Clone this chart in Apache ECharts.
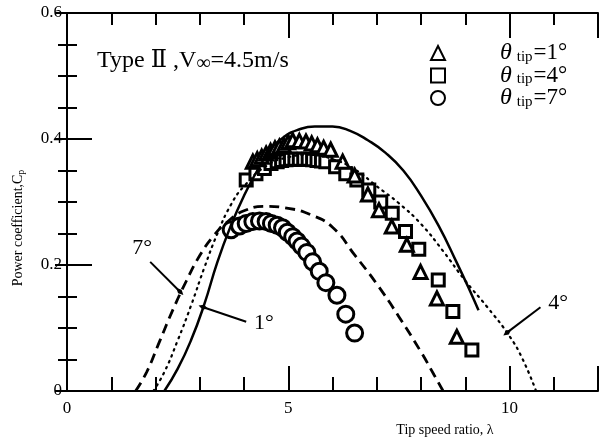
<!DOCTYPE html>
<html>
<head>
<meta charset="utf-8">
<script src="https://cdn.jsdelivr.net/npm/echarts@6/dist/echarts.min.js"></script>
<style>
html,body{margin:0;padding:0;background:#fff;}
#chart{width:608px;height:443px;}
</style>
</head>
<body>
<div id="chart"></div>
<script>
const serif = '"Liberation Serif","DejaVu Serif",serif';

// Tick labels
const xLabelValues = [0, 5, 10];
const yLabelValues = [0, 0.2, 0.4, 0.6];

// Blade tip angles (deg)
const tipAngles = [1, 4, 7];

// Measured power coefficient [lambda, Cp]
const measTip1 = [
  [4.2,0.364],[4.3,0.368],[4.4,0.372],[4.5,0.377],[4.6,0.381],[4.7,0.385],[4.8,0.388],
  [4.9,0.39],[5.0,0.395],[5.1,0.398],[5.25,0.397],[5.4,0.396],[5.53,0.393],[5.66,0.39],
  [5.8,0.386],[5.96,0.383],[6.23,0.364],[6.5,0.342],[6.8,0.312],[7.05,0.287],[7.34,0.261],
  [7.68,0.232],[7.99,0.189],[8.36,0.147],[8.81,0.086]
];
const measTip4 = [
  [4.05,0.335],[4.27,0.345],[4.46,0.353],[4.61,0.361],[4.75,0.364],[4.85,0.366],[4.95,0.367],
  [5.05,0.368],[5.15,0.368],[5.25,0.368],[5.35,0.368],[5.45,0.368],[5.55,0.367],[5.65,0.366],
  [5.75,0.365],[5.85,0.364],[6.07,0.356],[6.3,0.345],[6.55,0.335],[6.82,0.319],[7.09,0.3],
  [7.35,0.282],[7.65,0.253],[7.95,0.225],[8.39,0.176],[8.72,0.126],[9.15,0.065]
];
const measTip7 = [
  [3.71,0.256],[3.9,0.262],[4.05,0.266],[4.2,0.269],[4.35,0.27],[4.5,0.269],[4.62,0.266],
  [4.75,0.263],[4.87,0.259],[4.98,0.252],[5.1,0.245],[5.2,0.238],[5.3,0.23],[5.42,0.22],
  [5.55,0.205],[5.7,0.19],[5.85,0.172],[6.1,0.152],[6.3,0.122],[6.5,0.092]
];

// Calculated power coefficient curves [lambda, Cp]
const calcTip1 = [
  [2.2,0],[2.5,0.035],[2.8,0.08],[3.1,0.137],[3.4,0.205],[3.7,0.262],[4.0,0.31],[4.3,0.35],
  [4.6,0.383],[4.9,0.403],[5.2,0.414],[5.6,0.42],[6.0,0.42],[6.4,0.413],[6.8,0.398],
  [7.2,0.378],[7.6,0.35],[8.0,0.31],[8.4,0.262],[8.8,0.205],[9.1,0.16],[9.3,0.128]
];
const calcTip4 = [
  [1.95,0],[2.2,0.03],[2.5,0.08],[2.8,0.135],[3.1,0.195],[3.4,0.25],[3.7,0.295],[4.0,0.325],
  [4.5,0.357],[5.0,0.371],[5.5,0.375],[6.0,0.368],[6.5,0.352],[7.0,0.325],[7.5,0.298],
  [8.0,0.265],[8.5,0.222],[9.0,0.175],[9.5,0.133],[10.0,0.087],[10.3,0.05],[10.6,0]
];
const calcTip7 = [
  [1.55,0],[1.8,0.03],[2.1,0.08],[2.4,0.13],[2.7,0.175],[3.0,0.215],[3.3,0.245],[3.6,0.267],
  [4.0,0.286],[4.5,0.293],[5.0,0.29],[5.5,0.28],[6.0,0.26],[6.5,0.216],[7.0,0.17],
  [7.5,0.118],[8.0,0.062],[8.3,0.025],[8.5,0]
];

// Curve callouts: text, label point, leader start, leader tip
const callouts = [
  { text: '7°', at: [1.7, 0.226], from: [1.88, 0.205], to: [2.55, 0.158] },
  { text: '1°', at: [4.45, 0.108], from: [4.05, 0.11], to: [3.08, 0.133] },
  { text: '4°', at: [11.1, 0.14], from: [10.7, 0.133], to: [9.95, 0.093] }
];

const chart = echarts.init(document.getElementById('chart'));

const boxLine = { show: true, lineStyle: { color: '#000', width: 2 } };
function xAxisDef(pos, interval, len, labels) {
  return {
    type: 'value', position: pos, min: 0, max: 12, interval: interval,
    axisLine: labels ? boxLine : { show: false },
    axisTick: { show: true, inside: true, length: len, lineStyle: { color: '#000', width: 2 } },
    axisLabel: labels ? {
      show: true, margin: 9, color: '#000', fontFamily: serif, fontSize: 17,
      formatter: v => xLabelValues.indexOf(v) >= 0 ? String(v) : ''
    } : { show: false },
    splitLine: { show: false }
  };
}
function yAxisDef(pos, len, minorLen, labels) {
  return {
    type: 'value', position: pos, min: 0, max: 0.6, interval: 0.2,
    axisLine: boxLine,
    axisTick: { show: true, inside: true, length: len, lineStyle: { color: '#000', width: 2 } },
    minorTick: { show: true, splitNumber: 4, length: minorLen, lineStyle: { color: '#000', width: 2 } },
    axisLabel: labels ? {
      show: true, margin: 5, color: '#000', fontFamily: serif, fontSize: 17,
      formatter: v => yLabelValues.some(t => Math.abs(t - v) < 1e-9) ? String(+v.toFixed(1)) : ''
    } : { show: false },
    splitLine: { show: false }
  };
}

const markerStyle = { color: '#fff', borderColor: '#000', borderWidth: 3, opacity: 1 };
const legendNames = tipAngles.map(a => 'θtip=' + a + '°');

const option = {
  animation: false,
  backgroundColor: '#fff',
  grid: { left: 67, right: 10, top: 13, bottom: 52 },
  xAxis: [
    xAxisDef('bottom', 1, 14, true),
    xAxisDef('bottom', 5, 25, false),
    Object.assign(xAxisDef('top', 1, 12, false), { axisLine: boxLine }),
    xAxisDef('top', 5, 25, false)
  ],
  yAxis: [
    yAxisDef('left', 25, 10, true),
    yAxisDef('right', 12, 9, false)
  ],
  legend: {
    orient: 'vertical', left: 425, top: 36, itemWidth: 14, itemHeight: 14, itemGap: -1.5,
    data: legendNames,
    formatter: name => {
      const a = name.replace('θtip=', '');
      return '{g|}{t|θ}{s|tip}{v|=' + a + '}';
    },
    textStyle: {
      color: '#000', fontFamily: serif,
      rich: {
        g: { width: 50 },
        t: { fontFamily: serif, fontStyle: 'italic', fontSize: 24, lineHeight: 21 },
        s: { fontFamily: serif, fontSize: 15, padding: [8, 1, 0, 5], lineHeight: 21 },
        v: { fontFamily: serif, fontSize: 23, lineHeight: 21 }
      }
    }
  },
  graphic: [
    {
      type: 'text', left: 97, top: 49,
      style: {
        text: '{a|Type Ⅱ ,V}{b|∞}{a|=4.5m/s}',
        rich: {
          a: { fontFamily: serif, fontSize: 24, fill: '#000' },
          b: { fontFamily: serif, fontSize: 20, fill: '#000', padding: [6, 0, 0, 0] }
        }
      }
    },
    {
      type: 'text', x: 18, y: 228, rotation: Math.PI / 2,
      style: {
        text: '{a|Power coefficient,C}{b|p}',
        align: 'center', verticalAlign: 'middle',
        rich: {
          a: { fontFamily: serif, fontSize: 14, fill: '#000' },
          b: { fontFamily: serif, fontSize: 10, fill: '#000', padding: [6, 0, 0, 0] }
        }
      }
    },
    {
      type: 'text', x: 445, y: 430,
      style: {
        text: 'Tip speed ratio, λ', fontFamily: serif, fontSize: 14, fill: '#000',
        align: 'center', verticalAlign: 'middle'
      }
    }
  ],
  series: [
    {
      name: 'calc1', type: 'line', data: calcTip1, smooth: true, showSymbol: false,
      lineStyle: { color: '#000', width: 2.5 }, silent: true
    },
    {
      name: 'calc4', type: 'line', data: calcTip4, smooth: true, showSymbol: false,
      lineStyle: { color: '#000', width: 2.2, type: [1.5, 5], cap: 'round' }, silent: true
    },
    {
      name: 'calc7', type: 'line', data: calcTip7, smooth: true, showSymbol: false,
      lineStyle: { color: '#000', width: 2.8, type: [10, 6] }, silent: true
    },
    {
      name: 'callouts', type: 'scatter', symbolSize: 0, silent: true,
      itemStyle: { color: '#000', opacity: 1 },
      data: callouts.map(c => ({ value: c.at, name: c.text })),
      label: {
        show: true, position: 'inside', formatter: p => p.name,
        color: '#000', fontFamily: serif, fontSize: 22, textBorderWidth: 0, opacity: 1
      },
      markLine: {
        silent: true, symbol: ['none', 'diamond'], symbolSize: [5, 10],
        lineStyle: { color: '#000', width: 2, type: 'solid', opacity: 1 },
        label: { show: false },
        data: callouts.map(c => [{ coord: c.from }, { coord: c.to }])
      }
    },
    {
      name: legendNames[2], type: 'scatter', data: measTip7, symbol: 'circle', symbolSize: 16,
      itemStyle: markerStyle
    },
    {
      name: legendNames[1], type: 'scatter', data: measTip4, symbol: 'rect', symbolSize: 12,
      itemStyle: markerStyle
    },
    {
      name: legendNames[0], type: 'scatter', data: measTip1, symbol: 'triangle', symbolSize: 13,
      itemStyle: markerStyle
    }
  ]
};
chart.setOption(option);
</script>
</body>
</html>
